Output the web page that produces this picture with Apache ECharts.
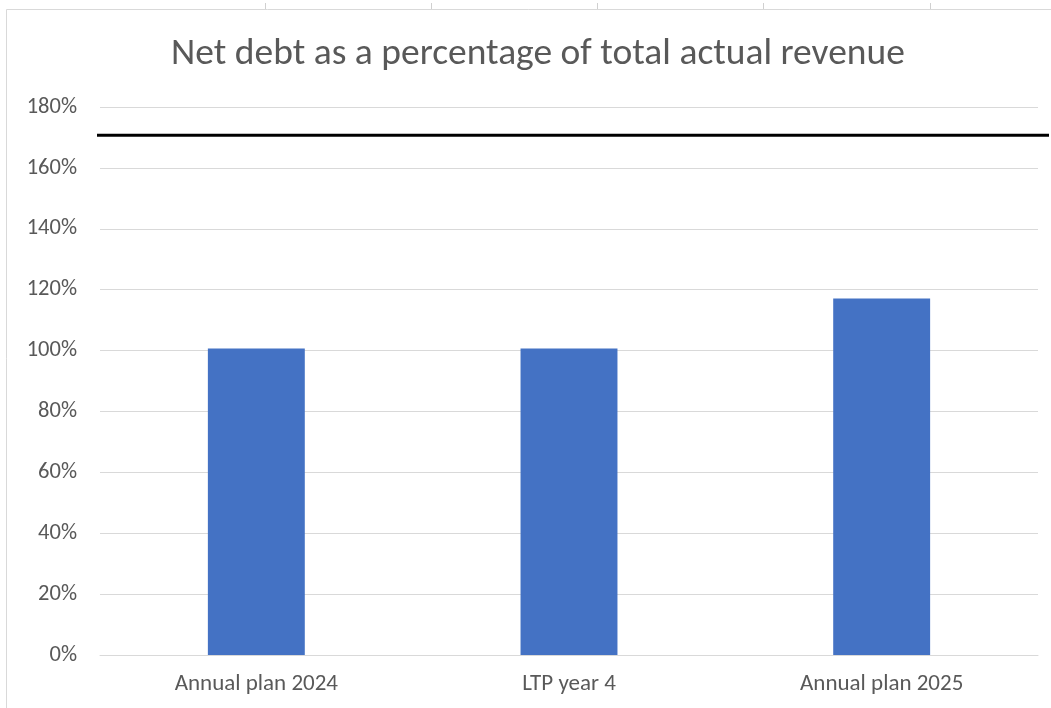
<!DOCTYPE html>
<html>
<head>
<meta charset="utf-8">
<script src="https://cdn.jsdelivr.net/npm/echarts@6/dist/echarts.min.js"></script>
<style>
html,body{margin:0;padding:0;background:#fff;}
#c{width:1051px;height:708px;}
</style>
</head>
<body>
<div id="c"></div>
<script>
const categories = ["Annual plan 2024", "LTP year 4", "Annual plan 2025"];
const values = [100.7, 100.7, 117.1];
const limitValue = 170.7;
const yTicks = [0, 20, 40, 60, 80, 100, 120, 140, 160, 180];

const FONT = 'Carlito, Lato, "Open Sans", sans-serif';
const chart = echarts.init(document.getElementById('c'), null, {renderer: 'canvas'});
chart.setOption({
  animation: false,
  backgroundColor: '#fff',
  title: {
    text: 'Net debt as a percentage of total actual revenue',
    left: 533, top: 31, textAlign: 'center',
    textStyle: {fontFamily: FONT, fontSize: 37.5, fontWeight: 'normal', color: '#595959'}
  },
  grid: {left: 100, right: 13, top: 107, bottom: 53, containLabel: false},
  xAxis: {
    type: 'category', data: categories,
    axisLine: {show: true, lineStyle: {color: '#d9d9d9', width: 1}},
    axisTick: {show: false},
    axisLabel: {fontFamily: FONT, fontSize: 23, color: '#595959', margin: 18}
  },
  yAxis: {
    type: 'value', min: yTicks[0], max: yTicks[yTicks.length-1], interval: 20,
    axisLine: {show: false}, axisTick: {show: false},
    axisLabel: {fontFamily: FONT, fontSize: 22.5, color: '#595959', margin: 23, formatter: v => v + '%'},
    splitLine: {lineStyle: {color: '#d9d9d9', width: 1}}
  },
  series: [{
    type: 'bar', data: values, barWidth: '31%',
    itemStyle: {color: '#4472C4'}
  }]
});
const yLim = chart.convertToPixel({yAxisIndex: 0}, limitValue);
chart.setOption({
  graphic: [
    {type: 'line', shape: {x1: 6.5, y1: 9.5, x2: 1051, y2: 9.5}, style: {stroke: '#d9d9d9', lineWidth: 1}, silent: true},
    {type: 'line', shape: {x1: 6.5, y1: 9.5, x2: 6.5, y2: 708}, style: {stroke: '#d9d9d9', lineWidth: 1}, silent: true},
    ...[265, 431, 597, 763, 930].map(x => ({type: 'line', shape: {x1: x + 0.5, y1: 3, x2: x + 0.5, y2: 9}, style: {stroke: '#d0d0d0', lineWidth: 1}, silent: true})),
    {type: 'line', shape: {x1: 97, y1: yLim, x2: 1049, y2: yLim}, style: {stroke: '#000', lineWidth: 3}, silent: true, z: 10}
  ]
});
</script>
</body>
</html>
